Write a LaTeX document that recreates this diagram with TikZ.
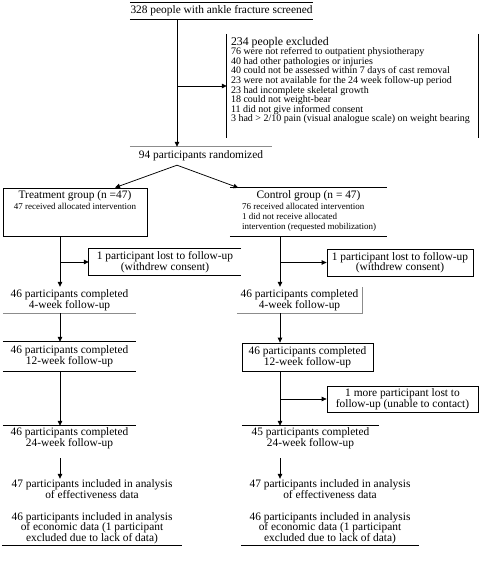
\documentclass[tikz,border=0pt]{standalone}
\usepackage{fontspec}
\setmainfont{Liberation Serif}
\usetikzlibrary{arrows.meta}
\begin{document}
\begin{tikzpicture}[x=1pt,y=-1pt,
  box/.style={inner sep=0pt, align=center, font=\fontsize{11.4}{10.6}\selectfont},
  smalltxt/.style={inner sep=0pt, align=left, font=\fontsize{9}{10}\selectfont},
  edge/.style={line width=0.75pt},
  grayedge/.style={line width=0.75pt, draw=black!45},
  arr/.style={line width=0.75pt, -{Triangle[length=5pt,width=4.5pt]}},
]
\useasboundingbox (0,0) rectangle (482,564);
\coordinate (spine) at (177,0);
\coordinate (lt) at (60,0);
\coordinate (rt) at (280,0);

% screened
\node[box, minimum width=183, minimum height=16] (screen) at (221.5,11) {328 people with ankle fracture screened};
\draw[edge] (screen.north west) -- (screen.north east);
\draw[edge] (screen.south west) -- (screen.south east);

% excluded
\node[inner sep=0pt, minimum width=251, minimum height=104] (excl) at (352.5,86) {};
\draw[edge] (excl.north west) -- (excl.south west);
\draw[edge] (excl.north east) -- (excl.south east);
\node[smalltxt, anchor=north west, font=\fontsize{10}{9.6}\selectfont] (excltxt) at ([xshift=4pt,yshift=-3pt]excl.north west)
 {{\fontsize{11.8}{12}\selectfont 234 people excluded}\\
 76 were not referred to outpatient physiotherapy\\
 40 had other pathologies or injuries\\
 40 could not be assessed within 7 days of cast removal\\
 23 were not available for the 24 week follow-up period\\
 23 had incomplete skeletal growth\\
 18 could not weight-bear\\
 11 did not give informed consent\\
 3 had > 2/10 pain (visual analogue scale) on weight bearing};

% randomized
\node[box, minimum width=142, minimum height=18] (rand) at (201,156) {94 participants randomized};
\draw[grayedge] (rand.north west) -- (rand.north east);

\draw[arr] (screen.south -| spine) -- (rand.north -| spine);
\draw[arr] (excl.west -| spine) -- (excl.west);

% groups
\node[inner sep=0pt, minimum width=144, minimum height=48, draw, line width=0.75pt] (treat) at (75,212) {};
\node[box, anchor=north] (treattxt) at ([yshift=-3pt]treat.north)
 {Treatment group (n =47)\\{\fontsize{9}{10}\selectfont 47 received allocated intervention}};

\node[inner sep=0pt, minimum width=157, minimum height=48] (ctrl) at (308.5,212) {};
\draw[edge] (ctrl.north west) -- (ctrl.north east);
\draw[edge] (ctrl.south west) -- (ctrl.south east);
\node[box, anchor=north] (ctrltxt) at ([yshift=-3pt]ctrl.north) {Control group (n = 47)};
\node[smalltxt, anchor=west] (ctrlsub) at (242,217)
 {76 received allocated intervention\\1 did not receive allocated\\intervention (requested mobilization)};

\draw[arr] (rand.south -| spine) -- ([xshift=40pt]treat.north);
\draw[arr] (rand.south -| spine) -- ([xshift=-70pt]ctrl.north);

% lost 1
\node[box, minimum width=152, minimum height=26] (lost1) at (165,262) {1 participant lost to follow-up\\(withdrew consent)};
\draw[edge] (lost1.north east) -- (lost1.north west) -- (lost1.south west) -- (lost1.south east);
\node[box, minimum width=146, minimum height=27, draw, line width=0.75pt] (lost2) at (400,262.5) {1 participant lost to follow-up\\(withdrew consent)};

% 4-week
\node[box, minimum width=133, minimum height=26] (w4L) at (69.5,300) {46 participants completed\\4-week follow-up};
\draw[grayedge] (w4L.south west) -- (w4L.south east);
\node[box, minimum width=125, minimum height=26] (w4R) at (299.5,300) {46 participants completed\\4-week follow-up};
\draw[grayedge] (w4R.south west) -- (w4R.south east) -- (w4R.north east);

\draw[arr] (treat.south -| lt) -- (w4L.north -| lt);
\draw[arr] (lost1.west -| lt) -- (lost1.west);
\draw[arr] (ctrl.south -| rt) -- (w4R.north -| rt);
\draw[arr] (lost2.west -| rt) -- (lost2.west);

% 12-week
\node[box, minimum width=133, minimum height=29] (w12L) at (69.5,356.5) {46 participants completed\\12-week follow-up};
\draw[edge] (w12L.north west) -- (w12L.north east);
\draw[edge] (w12L.south west) -- (w12L.south east);
\node[box, minimum width=131, minimum height=28, draw, line width=0.75pt] (w12R) at (307.5,357) {46 participants completed\\12-week follow-up};

\draw[arr] (w4L.south -| lt) -- (w12L.north -| lt);
\draw[arr] (w4R.south -| rt) -- (w12R.north -| rt);

% lost 3
\node[box, minimum width=151, minimum height=26, draw, line width=0.75pt] (lost3) at (402.5,399) {1 more participant lost to\\follow-up (unable to contact)};

% 24-week
\node[box, minimum width=133, minimum height=24] (w24L) at (69.5,438) {46 participants completed\\24-week follow-up};
\draw[edge] (w24L.north west) -- (w24L.north east);
\node[box, minimum width=137, minimum height=24] (w24R) at (310.5,438) {45 participants completed\\24-week follow-up};
\draw[edge] (w24R.north west) -- (w24R.north east);

\draw[arr] (w12L.south -| lt) -- (w24L.north -| lt);
\draw[arr] (w12R.south -| rt) -- (w24R.north -| rt);
\draw[arr] (lost3.west -| rt) -- (lost3.west);

% analysis
\node[box, minimum height=20] (effL) at (92,489) {47 participants included in analysis\\of effectiveness data};
\node[box, minimum height=20] (effR) at (330,489) {47 participants included in analysis\\of effectiveness data};
\node[box, minimum width=180, minimum height=34] (econL) at (92,528) {46 participants included in analysis\\of economic data (1 participant\\excluded due to lack of data)};
\draw[edge] (econL.south west) -- (econL.south east);
\node[box, minimum width=178, minimum height=34] (econR) at (330,528) {46 participants included in analysis\\of economic data (1 participant\\excluded due to lack of data)};
\draw[edge] (econR.south west) -- (econR.south east);

\draw[arr] ([yshift=-8pt]w24L.south -| lt) -- (effL.north -| lt);
\draw[arr] ([yshift=-8pt]w24R.south -| rt) -- (effR.north -| rt);
\end{tikzpicture}
\end{document}
